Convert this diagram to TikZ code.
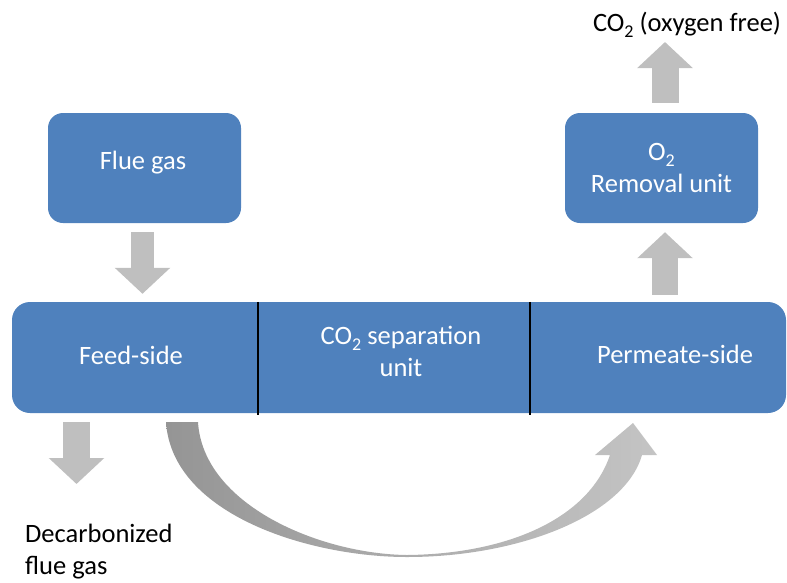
\documentclass[tikz,border=0pt]{standalone}
\usepackage{fontspec}
\setmainfont{Carlito}
\usetikzlibrary{arrows.meta}
\definecolor{boxblue}{HTML}{4F81BD}
\definecolor{arrowgray}{HTML}{BFBFBF}
\definecolor{curvedark}{HTML}{959595}
\definecolor{curvelight}{HTML}{C4C4C4}
\newcommand{\mysubtwo}{\raisebox{-0.24em}{\fontsize{18}{18}\selectfont 2}}
\begin{document}
\begin{tikzpicture}[x=1pt,y=-1pt,
  bigfont/.style={font=\fontsize{26.5}{32}\selectfont},
  bluebox/.style={fill=boxblue, draw=none, rounded corners=15pt, inner sep=0pt},
  boxtext/.style={bigfont, text=white, align=center, inner sep=0pt},
  plaintext/.style={bigfont, text=black, inner sep=0pt},
  blockarrow/.style={draw=arrowgray, line width=26pt, -{Triangle[width=54pt,length=26pt,fill=arrowgray]}},
  divider/.style={draw=black, line width=2pt}
]
\useasboundingbox (0,0) rectangle (787,582);

% boxes
\node[bluebox, minimum width=193pt, minimum height=110pt] (flue) at (144.5,168) {};
\node[boxtext] (fluetext) at (143,163) {Flue gas};
\node[bluebox, minimum width=193pt, minimum height=110pt] (otwo) at (661.5,168) {};
\node[boxtext] (otwotext) at (661.5,168) {O\mysubtwo\\Removal unit};
\node[bluebox, rounded corners=18pt, minimum width=774pt, minimum height=111pt] (bar) at (399,357.5) {};

% dividers
\coordinate (d1) at (257.5,0);
\coordinate (d2) at (529.5,0);
\draw[divider] (bar.north -| d1) -- ([yshift=-2pt]bar.south -| d1);
\draw[divider] (bar.north -| d2) -- ([yshift=-2pt]bar.south -| d2);

% bar texts
\node[boxtext] (feed) at (131,355) {Feed-side};
\node[boxtext] (sep) at (401,351) {CO\mysubtwo{} separation\\unit};
\node[boxtext] (perm) at (675,354) {Permeate-side};

% outside texts
\node[plaintext, anchor=base] (cofree) at (687,31) {CO\mysubtwo{} (oxygen free)};
\node[plaintext, anchor=north west, align=left] (decarb) at (25,524) {Decarbonized\\flue gas};

% straight block arrows
\coordinate (ca) at (142.5,0);
\coordinate (cb) at (665,0);
\coordinate (cc) at (76.5,0);
\coordinate (toptip) at (665,42);
\coordinate (decarbtip) at (76.5,484);
\draw[blockarrow, line width=23pt, shorten <=9pt, shorten >=8pt] (flue.south -| ca) -- (bar.north -| ca);
\draw[blockarrow, shorten <=7pt, shorten >=9pt] (bar.north -| cb) -- (otwo.south -| cb);
\draw[blockarrow, line width=27pt, shorten <=10pt] (otwo.north -| cb) -- (toptip);
\draw[blockarrow, line width=27pt, shorten <=9pt] (bar.south -| cc) -- (decarbtip);

% curved tapered arrow
\shade[left color=curvedark, right color=curvelight, shading angle=90]
  (166,422) .. controls (172,515) and (310,557) .. (407,557)
  .. controls (520,557) and (625,515) .. (642,455)
  -- (657,455) -- (633,423) -- (595,455) -- (610,455)
  .. controls (588,520) and (505,554) .. (407,555)
  .. controls (320,554) and (203,505) .. (198,422) -- cycle;
\end{tikzpicture}
\end{document}
